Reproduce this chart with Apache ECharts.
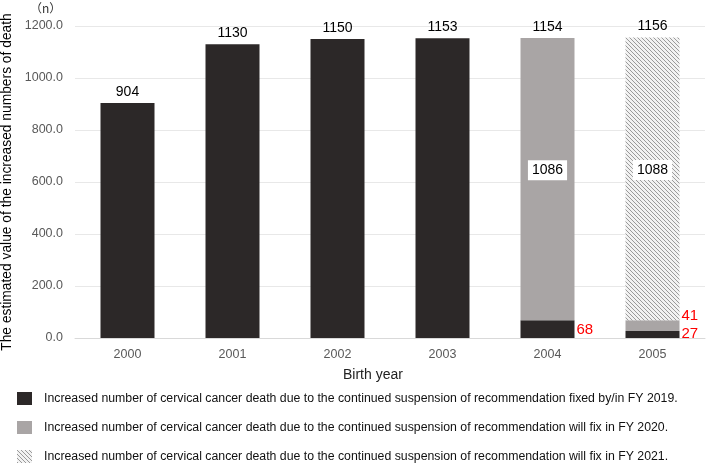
<!DOCTYPE html>
<html>
<head>
<meta charset="utf-8">
<script src="https://cdn.jsdelivr.net/npm/echarts@6/dist/echarts.min.js"></script>
<style>html,body{margin:0;padding:0;background:#fff;}#c{width:708px;height:466px;}</style>
</head>
<body>
<div id="c"></div>
<script>
var categories = ['2000', '2001', '2002', '2003', '2004', '2005'];
var fixed2019 = [904, 1130, 1150, 1153, 68, 27];
var fix2020 = [null, null, null, null, 1086, 41];
var fix2021 = [null, null, null, null, null, 1088];
var seriesNames = [
  'Increased number of cervical cancer death due to the continued suspension of recommendation fixed by/in FY 2019.',
  'Increased number of cervical cancer death due to the continued suspension of recommendation will fix in FY 2020.',
  'Increased number of cervical cancer death due to the continued suspension of recommendation will fix in FY 2021.'
];
var totals = categories.map(function (c, i) {
  return (fixed2019[i] || 0) + (fix2020[i] || 0) + (fix2021[i] || 0);
});

var cv = document.createElement('canvas');
cv.width = 4; cv.height = 4;
var g = cv.getContext('2d');
g.fillStyle = '#f2f2f2'; g.fillRect(0, 0, 4, 4);
g.strokeStyle = '#9a9a9a'; g.lineWidth = 1;
g.beginPath(); g.moveTo(-1, -1); g.lineTo(5, 5); g.moveTo(-1, 3); g.lineTo(1, 5); g.moveTo(3, -1); g.lineTo(5, 1); g.stroke();

var DARK = '#2c2828', GRAY = '#a9a5a5';
var redLabel = { color: '#ff0000', fontSize: 15, fontFamily: 'Liberation Sans' };

function legendRow(i, top) {
  return {
    orient: 'vertical', left: 17, top: top, itemWidth: 15, itemHeight: 13, padding: 0,
    icon: 'rect',
    data: [seriesNames[i]],
    textStyle: { fontFamily: 'Liberation Sans', fontSize: 12.3, color: '#111', padding: [0, 0, 0, 7] },
    selectedMode: false
  };
}

var chart = echarts.init(document.getElementById('c'));
chart.setOption({
  animation: false,
  textStyle: { fontFamily: 'Liberation Sans' },
  grid: { left: 75, right: 3, top: 26, bottom: 128, outerBoundsMode: 'none', containLabel: false },
  legend: [legendRow(0, 392), legendRow(1, 421), legendRow(2, 450)],
  graphic: [
    { type: 'text', left: 30, top: 2, style: { text: '（n）', fontSize: 12, fill: '#333', fontFamily: 'Noto Sans CJK JP' } },
    { type: 'text', left: 343, top: 368, style: { text: 'Birth year', fontSize: 14, fill: '#222', fontFamily: 'Liberation Sans' } }
  ],
  xAxis: {
    type: 'category', data: categories,
    axisLine: { lineStyle: { color: '#d9d9d9' } },
    axisTick: { show: false },
    axisLabel: { color: '#595959', fontSize: 12.5, margin: 10 }
  },
  yAxis: {
    type: 'value', min: 0, max: 1200, interval: 200,
    name: 'The estimated value of the increased numbers of death',
    nameLocation: 'middle', nameGap: 54,
    nameTextStyle: { fontSize: 13.8, color: '#000' },
    axisLabel: { color: '#595959', fontSize: 12.5, margin: 12, formatter: function (v) { return v.toFixed(1); } },
    splitLine: { lineStyle: { color: '#e8e8e8' } }
  },
  series: [
    {
      name: seriesNames[0], type: 'bar', stack: 's', barWidth: 54,
      itemStyle: { color: DARK },
      data: fixed2019.map(function (v, i) {
        if (i < 4) return v;
        return { value: v, label: Object.assign({ show: true, position: 'right', distance: 2, offset: [0, i === 5 ? -1 : 1] }, redLabel) };
      })
    },
    {
      name: seriesNames[1], type: 'bar', stack: 's', barWidth: 54,
      itemStyle: { color: GRAY },
      data: fix2020.map(function (v, i) {
        if (v == null) return v;
        if (i === 4) return { value: v, label: { show: true, position: 'inside', offset: [0, -9], color: '#000', fontSize: 14, backgroundColor: '#fff', padding: [3, 4] } };
        return { value: v, label: Object.assign({ show: true, position: 'right', distance: 2, offset: [0, -10] }, redLabel) };
      })
    },
    {
      name: seriesNames[2], type: 'bar', stack: 's', barWidth: 54,
      itemStyle: { color: { image: cv, repeat: 'repeat' } },
      data: fix2021.map(function (v) {
        if (v == null) return v;
        return { value: v, label: { show: true, position: 'inside', offset: [0, -9], color: '#000', fontSize: 14, backgroundColor: '#fff', padding: [3, 4] } };
      })
    },
    {
      name: 'total', type: 'bar', barWidth: 54, barGap: '-100%', silent: true,
      itemStyle: { color: 'rgba(0,0,0,0)' },
      label: { show: true, position: 'top', distance: 4, color: '#000', fontSize: 14 },
      data: totals,
      z: 0
    }
  ]
});
</script>
</body>
</html>
